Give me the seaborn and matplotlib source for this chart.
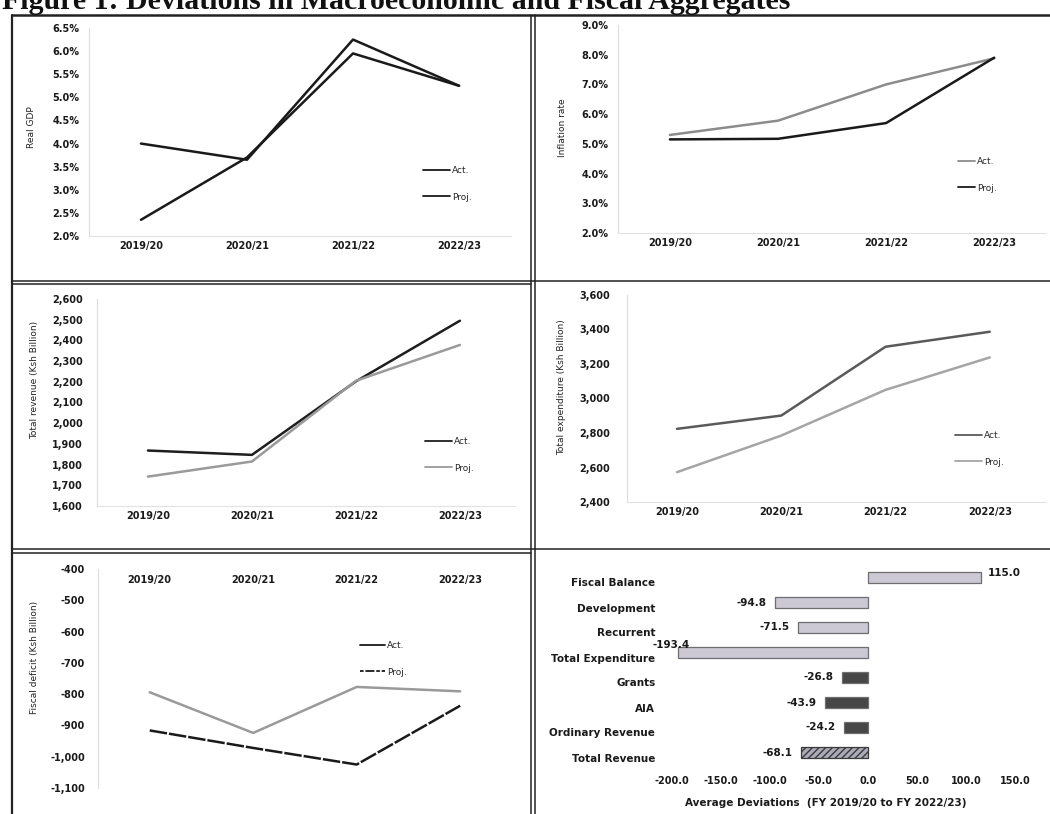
import matplotlib
matplotlib.use("Agg")
import matplotlib.pyplot as plt
import seaborn as sns
import pandas as pd
from matplotlib.lines import Line2D
from matplotlib.ticker import FuncFormatter, FixedLocator
from matplotlib.transforms import ScaledTranslation

W, H = 1050, 814

# ---- data -------------------------------------------------------------
years = ["2019/20", "2020/21", "2021/22", "2022/23"]

gdp_act = [4.0, 3.65, 6.25, 5.25]
gdp_proj = [2.35, 3.70, 5.95, 5.25]

infl_act = [5.30, 5.78, 7.00, 7.88]
infl_proj = [5.15, 5.17, 5.70, 7.90]

rev_act = [1868, 1847, 2202, 2495]
rev_proj = [1742, 1815, 2205, 2378]

exp_act = [2824, 2901, 3300, 3387]
exp_proj = [2573, 2785, 3050, 3238]

def_act = [-794, -924, -777, -791]
def_proj = [-916, -972, -1025, -837]

dev_items = ["Fiscal Balance", "Development", "Recurrent", "Total Expenditure",
             "Grants", "AIA", "Ordinary Revenue", "Total Revenue"]
dev_values = [115.0, -94.8, -71.5, -193.4, -26.8, -43.9, -24.2, -68.1]
dev_ticks = [-200, -150, -100, -50, 0, 50, 100, 150]

# ---- style ------------------------------------------------------------
sns.set_theme(style="white")
plt.rcParams["font.family"] = ["DejaVu Sans"]
plt.rcParams["axes.facecolor"] = "white"

fig = plt.figure(figsize=(W / 100, H / 100), dpi=100)
fig.patch.set_facecolor("white")


def px_axes(left, top, right, bottom):
    return fig.add_axes([left / W, 1 - bottom / H, (right - left) / W, (bottom - top) / H])


def fig_line(x0, y0, x1, y1, lw=1.4, color="#222222"):
    fig.add_artist(Line2D([x0 / W, x1 / W], [1 - y0 / H, 1 - y1 / H],
                          transform=fig.transFigure, color=color, lw=lw))


def line_panel(box, act, proj, colors, xlim, ylim, yticks, fmt, ylabel, label_px,
               legend_px, legend_colors, ytick_pad, proj_dash="", legend_proj_ls="-",
               handlelength=3.0, top_labels=False, bottom_spine=True):
    left, top, right, bottom = box
    ax = px_axes(left, top, right, bottom)
    df = pd.DataFrame({
        "Year": years * 2,
        "Value": act + proj,
        "Series": ["Act."] * len(years) + ["Proj."] * len(years),
    })
    sns.lineplot(data=df, x="Year", y="Value", hue="Series", style="Series",
                 palette={"Act.": colors[0], "Proj.": colors[1]},
                 dashes={"Act.": "", "Proj.": proj_dash},
                 linewidth=1.8, sort=False, legend=False, ax=ax)
    ax.set_xlim(*xlim)
    ax.set_ylim(*ylim)
    ax.yaxis.set_major_locator(FixedLocator(yticks))
    ax.yaxis.set_major_formatter(FuncFormatter(fmt))
    ax.set_xlabel("")
    ax.set_ylabel(ylabel, fontsize=6.5, color="#222222")
    lx, ly = label_px
    ax.yaxis.set_label_coords((lx - left) / (right - left), (bottom - ly) / (bottom - top))
    for s in ax.spines.values():
        s.set_visible(False)
    ax.spines["left"].set_visible(True)
    ax.spines["left"].set_color("#dcdcdc")
    ax.spines["left"].set_linewidth(0.8)
    if bottom_spine:
        ax.spines["bottom"].set_visible(True)
        ax.spines["bottom"].set_color("#e2e2e2")
        ax.spines["bottom"].set_linewidth(0.8)
    ax.tick_params(axis="y", length=0, pad=ytick_pad, labelsize=7, labelcolor="#1a1a1a")
    if top_labels:
        ax.xaxis.tick_top()
        ax.tick_params(axis="x", length=0, pad=-11.5, labelsize=7, labelcolor="#1a1a1a")
    else:
        ax.tick_params(axis="x", length=0, pad=3.5, labelsize=7, labelcolor="#1a1a1a")
    for t in ax.get_xticklabels() + ax.get_yticklabels():
        t.set_fontweight("bold")
    handles = [
        Line2D([], [], color=legend_colors[0], lw=1.3, ls="-"),
        Line2D([], [], color=legend_colors[1], lw=1.3, ls=legend_proj_ls),
    ]
    gx, gy = legend_px
    ax.legend(handles, ["Act.", "Proj."], loc="upper left",
              bbox_to_anchor=(gx / W, 1 - gy / H), bbox_transform=fig.transFigure,
              frameon=False, fontsize=6.5, handlelength=handlelength, handletextpad=0.2,
              labelspacing=1.95, borderpad=0, borderaxespad=0)
    return ax


pct = lambda v, _: f"{v:.1f}%"
thou = lambda v, _: f"{v:,.0f}"

# Real GDP
line_panel((89, 28, 511, 236), gdp_act, gdp_proj, ("#1a1a1a", "#1a1a1a"),
           (-0.49, 3.49), (2.0, 6.5), [2.0 + 0.5 * i for i in range(10)], pct,
           "Real GDP", (36, 127), (423, 166), ("#1a1a1a", "#1a1a1a"), 7)

# Inflation
line_panel((618, 25, 1045, 233), infl_act, infl_proj, ("#8c8c8c", "#1a1a1a"),
           (-0.48, 3.47), (2.0, 9.0), [2.0 + i for i in range(8)], pct,
           "Inflation rate", (567, 128), (958, 157), ("#8c8c8c", "#1a1a1a"), 7,
           handlelength=1.9)

# Total revenue
line_panel((97, 299, 515, 506), rev_act, rev_proj, ("#1e1e1e", "#9a9a9a"),
           (-0.49, 3.53), (1600, 2600), list(range(1600, 2700, 100)), thou,
           "Total revenue (Ksh Billion)", (39, 380), (425, 437), ("#1e1e1e", "#9a9a9a"), 10)

# Total expenditure
line_panel((627, 295, 1045, 502), exp_act, exp_proj, ("#5a5a5a", "#a5a5a5"),
           (-0.48, 3.53), (2400, 3600), list(range(2400, 3700, 200)), thou,
           "Total expenditure (Ksh Billion)", (566, 387), (955, 431), ("#5a5a5a", "#a5a5a5"), 12)

# Fiscal deficit
line_panel((98, 569, 515, 788), def_act, def_proj, ("#9a9a9a", "#1a1a1a"),
           (-0.50, 3.53), (-1100, -400), list(range(-1100, -300, 100)), thou,
           "Fiscal deficit (Ksh Billion)", (39, 657), (360, 641), ("#1a1a1a", "#1a1a1a"), 9.5,
           proj_dash=(7, 0.8), legend_proj_ls=(0, (2, 1, 5, 1)), handlelength=2.8,
           top_labels=True, bottom_spine=False)

# ---- average deviations bar chart --------------------------------------
axb = px_axes(665, 565, 1040, 765)
bar_colors = ["#cbc6d6"] * 4 + ["#474747"] * 3 + ["#a9a8ba"]
dev_df = pd.DataFrame({"Item": dev_items, "Deviation": dev_values})
sns.barplot(data=dev_df, x="Deviation", y="Item", hue="Item", palette=bar_colors,
            orient="h", width=0.45, edgecolor="#6e6e6e", linewidth=0.9,
            legend=False, ax=axb)
axb.patches[-1].set_hatch("/////")
axb.patches[-1].set_edgecolor("#3a3a3a")
axb.set_xlim(-206.8, 175.2)
axb.set_ylim(len(dev_items) - 0.5, -0.5)
axb.xaxis.set_major_locator(FixedLocator(dev_ticks))
axb.xaxis.set_major_formatter(FuncFormatter(lambda v, _: f"{v:.1f}"))
axb.set_ylabel("")
axb.set_xlabel("Average Deviations  (FY 2019/20 to FY 2022/23)", fontsize=7.5,
              fontweight="bold", color="#1a1a1a")
axb.xaxis.set_label_coords((826 - 665) / 375, -(798 - 765) / 200)
for s in axb.spines.values():
    s.set_visible(False)
axb.tick_params(axis="x", length=0, pad=8, labelsize=7, labelcolor="#1a1a1a")
axb.tick_params(axis="y", length=0, pad=7, labelsize=7.5, labelcolor="#1a1a1a")
shift = ScaledTranslation(0, -5 / 100, fig.dpi_scale_trans)
for t in axb.get_yticklabels():
    t.set_transform(t.get_transform() + shift)
    t.set_fontweight("bold")
for t in axb.get_xticklabels():
    t.set_fontweight("bold")
for i, v in enumerate(dev_values):
    if v >= 0:
        axb.annotate(f"{v:.1f}", xy=(v, i), xytext=(5, 3), textcoords="offset points",
                     ha="left", va="center", fontsize=7.5, fontweight="bold", color="#1a1a1a")
    elif v < -150:
        # long bar: value sits just above the bar's end
        axb.annotate(f"{v:.1f}", xy=(v, i), xytext=(8, 5.5), textcoords="offset points",
                     ha="right", va="center", fontsize=7.5, fontweight="bold", color="#1a1a1a")
    else:
        axb.annotate(f"{v:.1f}", xy=(v, i), xytext=(-6, 0), textcoords="offset points",
                     ha="right", va="center", fontsize=7.5, fontweight="bold", color="#1a1a1a")

# ---- panel frames --------------------------------------------------------
fig_line(12, 15, 1050, 15, lw=1.8)
fig_line(12, 15, 12, 814, lw=1.6)
fig_line(531, 15, 531, 814, lw=1.1)
fig_line(535, 15, 535, 814, lw=1.1)
fig_line(12, 281, 1050, 281, lw=1.1)
fig_line(12, 284, 531, 284, lw=1.1)
fig_line(12, 549, 1050, 549, lw=1.1)
fig_line(12, 553, 531, 553, lw=1.1)

# ---- figure title --------------------------------------------------------
fig.text(2 / W, 1 - 9 / H, "Figure 1: Deviations in Macroeconomic and Fiscal Aggregates",
         fontsize=21.5, fontweight="bold", family=["Liberation Serif", "DejaVu Serif"],
         ha="left", va="baseline", color="#111111")

fig.savefig("out.png", dpi=100, facecolor="white")
